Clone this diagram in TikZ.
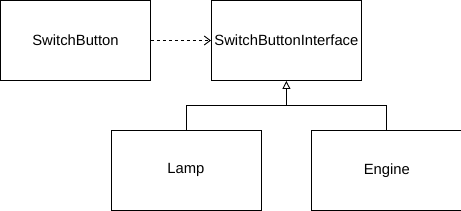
\documentclass[tikz,border=0pt]{standalone}
\usepackage{fontspec}
\setmainfont{Liberation Sans}
\usepackage{tikz}
\usetikzlibrary{calc, arrows.meta, positioning}

\begin{document}
\begin{tikzpicture}[
    every node/.style={font=\fontsize{14.8}{17}\selectfont},
    box/.style={draw, line width=0.9pt, minimum width=150pt, minimum height=80pt,
                inner sep=0pt, align=center},
    depends/.style={-{Straight Barb[length=6pt, width=9pt]}, line width=0.9pt,
                    dash pattern=on 3pt off 3pt},
    inherit/.style={-{Triangle[open, length=8pt, width=8pt]}, line width=0.9pt},
  ]
  \useasboundingbox (0,0) rectangle (461pt,211pt);

  \node[box] (btn) at (75.5pt,170.5pt) {SwitchButton};
  \node[box, right=60pt of btn] (intf) {SwitchButtonInterface};
  \node[box, below=49pt of intf.south west, anchor=north, xshift=-25pt] (lamp) {Lamp};
  \node[box, right=50pt of lamp] (engine) {Engine};

  \draw[depends] (btn) -- (intf);

  \coordinate (split) at ($(intf.south)+(0,-25pt)$);
  \draw[line width=0.9pt] (lamp.north) |- (split) -| (engine.north);
  \draw[inherit] (split) -- (intf.south);
\end{tikzpicture}
\end{document}
